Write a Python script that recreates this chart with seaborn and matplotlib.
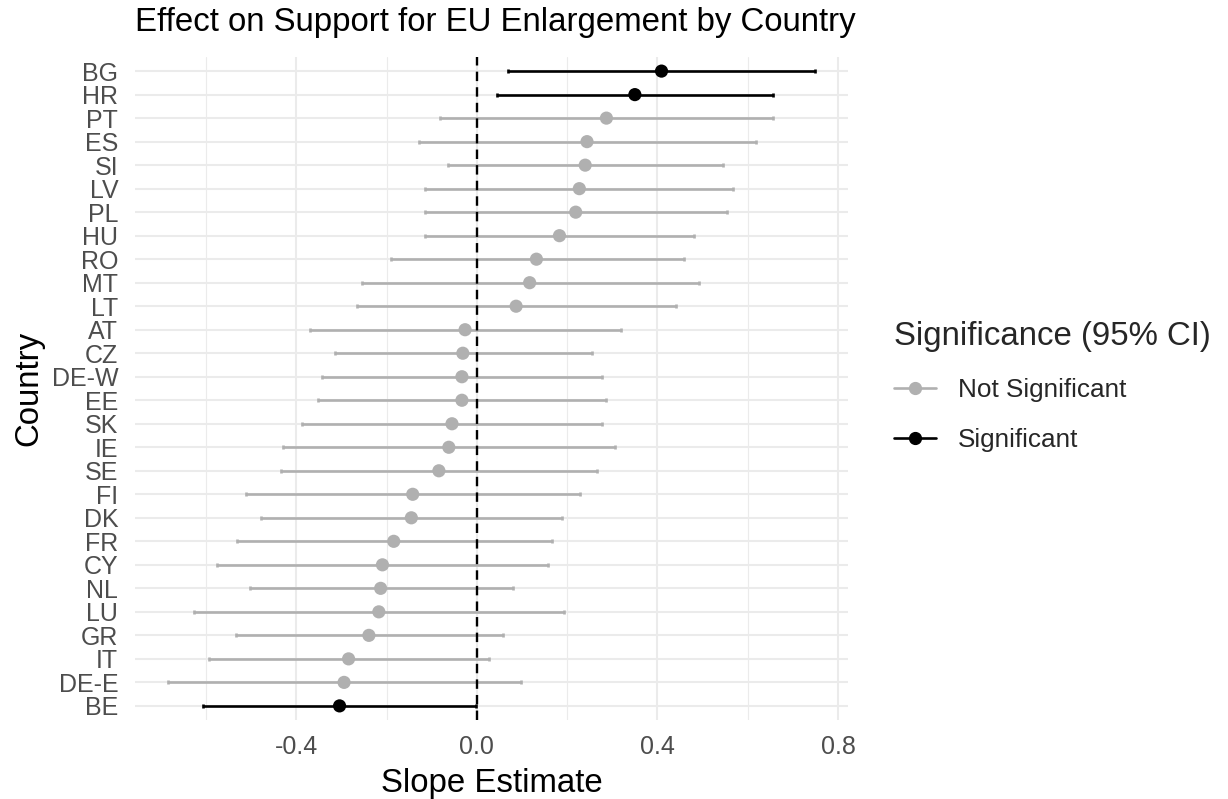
import numpy as np
import pandas as pd
import matplotlib
matplotlib.use("Agg")
import matplotlib.pyplot as plt
import seaborn as sns
from matplotlib.lines import Line2D
from matplotlib.ticker import FixedLocator

# ---- data (top to bottom as displayed) ----
countries = ["BG", "HR", "PT", "ES", "SI", "LV", "PL", "HU", "RO", "MT", "LT",
             "AT", "CZ", "DE-W", "EE", "SK", "IE", "SE", "FI", "DK", "FR",
             "CY", "NL", "LU", "GR", "IT", "DE-E", "BE"]
estimates = [0.409, 0.350, 0.287, 0.244, 0.240, 0.227, 0.219, 0.183, 0.132, 0.117, 0.087,
             -0.026, -0.031, -0.033, -0.033, -0.055, -0.062, -0.084, -0.142, -0.145, -0.184,
             -0.209, -0.213, -0.217, -0.239, -0.284, -0.294, -0.304]
lower = [0.068, 0.045, -0.081, -0.129, -0.064, -0.115, -0.115, -0.115, -0.191, -0.255, -0.265,
         -0.369, -0.315, -0.342, -0.351, -0.387, -0.430, -0.433, -0.511, -0.478, -0.532,
         -0.576, -0.503, -0.627, -0.533, -0.593, -0.685, -0.606]
upper = [0.750, 0.656, 0.657, 0.618, 0.545, 0.568, 0.555, 0.481, 0.458, 0.491, 0.442,
         0.319, 0.255, 0.278, 0.287, 0.277, 0.306, 0.266, 0.229, 0.189, 0.166,
         0.158, 0.080, 0.193, 0.058, 0.028, 0.098, -0.002]
significance = ["Significant", "Significant"] + ["Not Significant"] * 25 + ["Significant"]

x_ticks = [-0.4, 0.0, 0.4, 0.8]
x_tick_labels = ["-0.4", "0.0", "0.4", "0.8"]

df = pd.DataFrame({
    "country": countries,
    "estimate": estimates,
    "lower": lower,
    "upper": upper,
    "sig": significance,
})
n = len(df)
df["ypos"] = np.arange(n)[::-1]

palette = {"Not Significant": "#B0B0B0", "Significant": "#000000"}

sns.set_theme(style="whitegrid")
plt.rcParams["font.family"] = ["Liberation Sans", "DejaVu Sans"]

fig = plt.figure(figsize=(12.28, 7.99), dpi=100)
ax = fig.add_axes([135 / 1228, 1 - 720 / 799, (848 - 135) / 1228, (720 - 57) / 799])

for level, color in palette.items():
    sub = df[df["sig"] == level]
    ax.errorbar(sub["estimate"], sub["ypos"],
                xerr=[sub["estimate"] - sub["lower"], sub["upper"] - sub["estimate"]],
                fmt="none", ecolor=color, elinewidth=1.9, capsize=1.6, capthick=1.9,
                zorder=2)

sns.scatterplot(data=df, x="estimate", y="ypos", hue="sig", palette=palette,
                s=90, linewidth=0, ax=ax, legend=False, zorder=3)

ax.axvline(0, color="black", linestyle=(0, (4, 2.6)), linewidth=1.7, zorder=4)

ax.set_xlim(-0.757, 0.822)
ax.set_ylim(-0.6, n - 1 + 0.6)
ax.xaxis.set_major_locator(FixedLocator(x_ticks))
ax.set_xticklabels(x_tick_labels)
ax.xaxis.set_minor_locator(FixedLocator([-0.6, -0.2, 0.2, 0.6]))
ax.set_yticks(df["ypos"])
ax.set_yticklabels(df["country"])

ax.grid(which="major", axis="both", color="#EBEBEB", linewidth=1.5)
ax.grid(which="minor", axis="x", color="#EBEBEB", linewidth=0.8)
ax.set_axisbelow(True)
for s in ax.spines.values():
    s.set_visible(False)
ax.tick_params(axis="both", which="both", length=0, colors="#4D4D4D", labelsize=18)
ax.tick_params(axis="y", pad=12)
ax.tick_params(axis="x", pad=11)
ax.set_facecolor("white")

ax.set_xlabel("Slope Estimate", fontsize=23.8, color="black", labelpad=6)
ax.set_ylabel("Country", fontsize=23.8, color="black", labelpad=5)

fig.text(135 / 1228, 1 - 23 / 799, "Effect on Support for EU Enlargement by Country",
         fontsize=23.8, ha="left", va="center", color="black")

handles = [Line2D([0], [0], color=palette[k], lw=1.9, marker="o", markersize=8.5)
           for k in ["Not Significant", "Significant"]]
leg = fig.legend(handles, ["Not Significant", "Significant"],
                 title="Significance (95% CI)", loc="upper left",
                 bbox_to_anchor=(894 / 1228, 1 - 321 / 799), frameon=False,
                 fontsize=18.8, title_fontsize=23.8, handlelength=1.6, handletextpad=0.85,
                 labelspacing=1.0, borderpad=0, borderaxespad=0, alignment="left")

fig.savefig("out.png", dpi=100, facecolor="white")
